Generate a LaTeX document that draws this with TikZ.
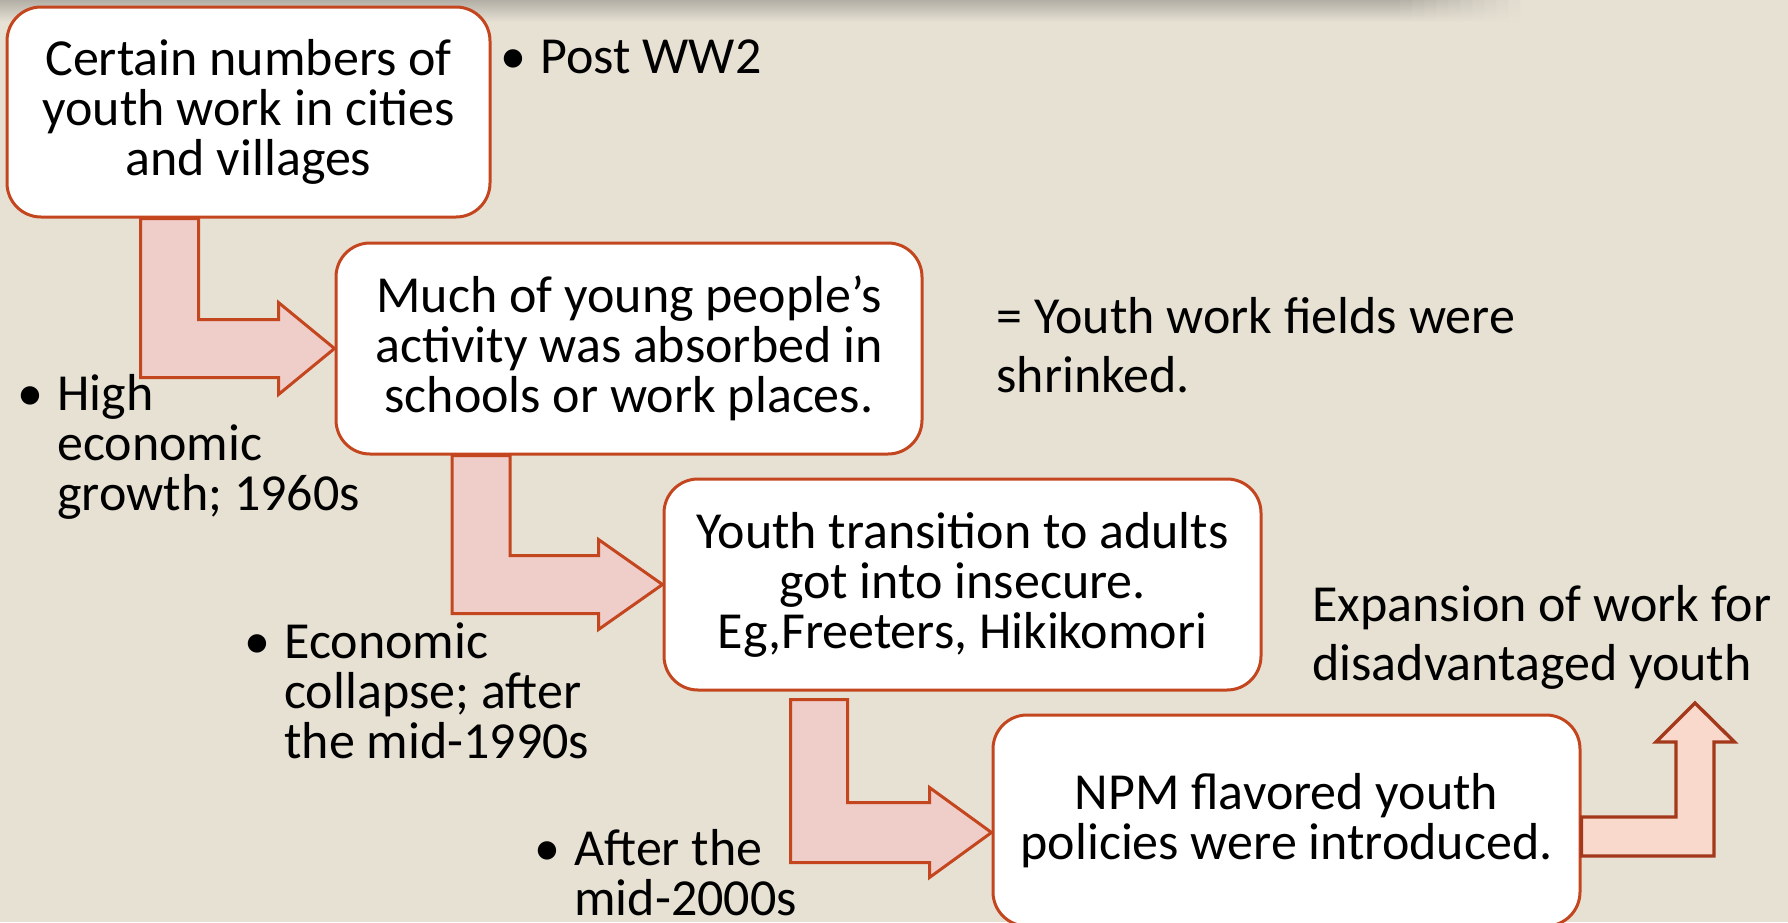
\documentclass[tikz,border=0pt]{standalone}
\usepackage{fontspec}
\setmainfont{Carlito}
\usetikzlibrary{calc}
\definecolor{paper}{HTML}{E7E1D4}
\definecolor{topshade}{HTML}{B3AFA6}
\definecolor{boxline}{HTML}{C4461F}
\definecolor{arrowfill}{HTML}{EFCDC9}
\definecolor{upfill}{HTML}{F8D9CB}
\definecolor{upline}{HTML}{A4381A}
\newcommand{\bul}{\llap{\textbullet\hspace{7pt}}}

\begin{document}
\begin{tikzpicture}[
   x=0.5pt, y=-0.5pt,
   stage/.style={draw=boxline,line width=1.5pt,fill=white,rounded corners=17pt,
      align=center,inner sep=0pt,font=\fontsize{26}{25}\selectfont},
   flowarrow/.style={draw=boxline,line width=1.5pt,fill=arrowfill,line join=miter},
   risearrow/.style={draw=upline,line width=1.7pt,fill=upfill,line join=miter},
   note/.style={anchor=base west,align=left,inner sep=0pt,font=\fontsize{26}{25}\selectfont},
   remark/.style={note,font=\fontsize{26}{29.5}\selectfont}]
\useasboundingbox (0,0) rectangle (1788,922);
\fill[paper] (0,0) rectangle (1788,922);
\shade[top color=topshade,bottom color=paper] (0,0) rectangle (1400,22);
\foreach \i in {1,...,10}
   \shade[top color=topshade,bottom color=paper,opacity=1-\i/11] (1388+\i*12,0) rectangle ++(12,22);

% boxes
\node[stage,minimum width=241.5pt,minimum height=105pt] (b1) at (248.5,112)
   {Certain numbers of\\youth work in cities\\and villages};
\node[stage,minimum width=293pt,minimum height=105.5pt] (b2) at (629,348.5)
   {Much of young people’s\\activity was absorbed in\\schools or work places.};
\node[stage,minimum width=298.5pt,minimum height=105.5pt] (b3) at (962.5,584.5)
   {Youth transition to adults\\got into insecure.\\Eg,Freeters, Hikikomori};
\node[stage,minimum width=293.5pt,minimum height=105.5pt] (b4) at (1286.5,820.5)
   {NPM flavored youth\\policies were introduced.};

% side texts (base = last line)
\node[note] (post) at (540,73) {\bul Post WW2};
\node[note] (high) at (57,510) {\bul High\\economic\\growth; 1960s};
\node[note] (crash) at (284,758) {\bul Economic\\collapse; after\\the mid-1990s};
\node[note] (late) at (574,915) {\bul After the\\mid-2000s};
\node[remark] (shrink) at (996,392) {= Youth work fields were\\shrinked.};
\node[remark] (exp) at (1312,680) {Expansion of work for\\disadvantaged youth};

% arrows
\coordinate (t3) at ($(b4.west)+(0,12)$);
\coordinate (up) at (1695,703);
\draw[flowarrow] ($(b1.south)+(-108,0)$) |- ($(b2.west)+(-56,29)$) -- ++(0,17) -- (b2.west)
   -- ++(-56,-46) -- ++(0,17) -| ($(b1.south)+(-50,0)$) -- cycle;
\draw[flowarrow] ($(b2.south)+(-177,0)$) |- ($(b3.west)+(-64,29)$) -- ++(0,16) -- (b3.west)
   -- ++(-64,-45) -- ++(0,16) -| ($(b2.south)+(-119,0)$) -- cycle;
\draw[flowarrow] ($(b3.south)+(-172,8)$) |- ($(t3)+(-62,30)$) -- ++(0,15) -- (t3)
   -- ++(-62,-45) -- ++(0,15) -| ($(b3.south)+(-115,8)$) -- cycle;
\draw[risearrow] ($(b4.east)+(0,-3.5)$) -| ($(up)+(-19,39)$) -- ++(-20,0) -- (up)
   -- ++(39.5,39) -- ++(-20.5,0) |- ($(b4.east)+(0,35.5)$) -- cycle;
\end{tikzpicture}
\end{document}
